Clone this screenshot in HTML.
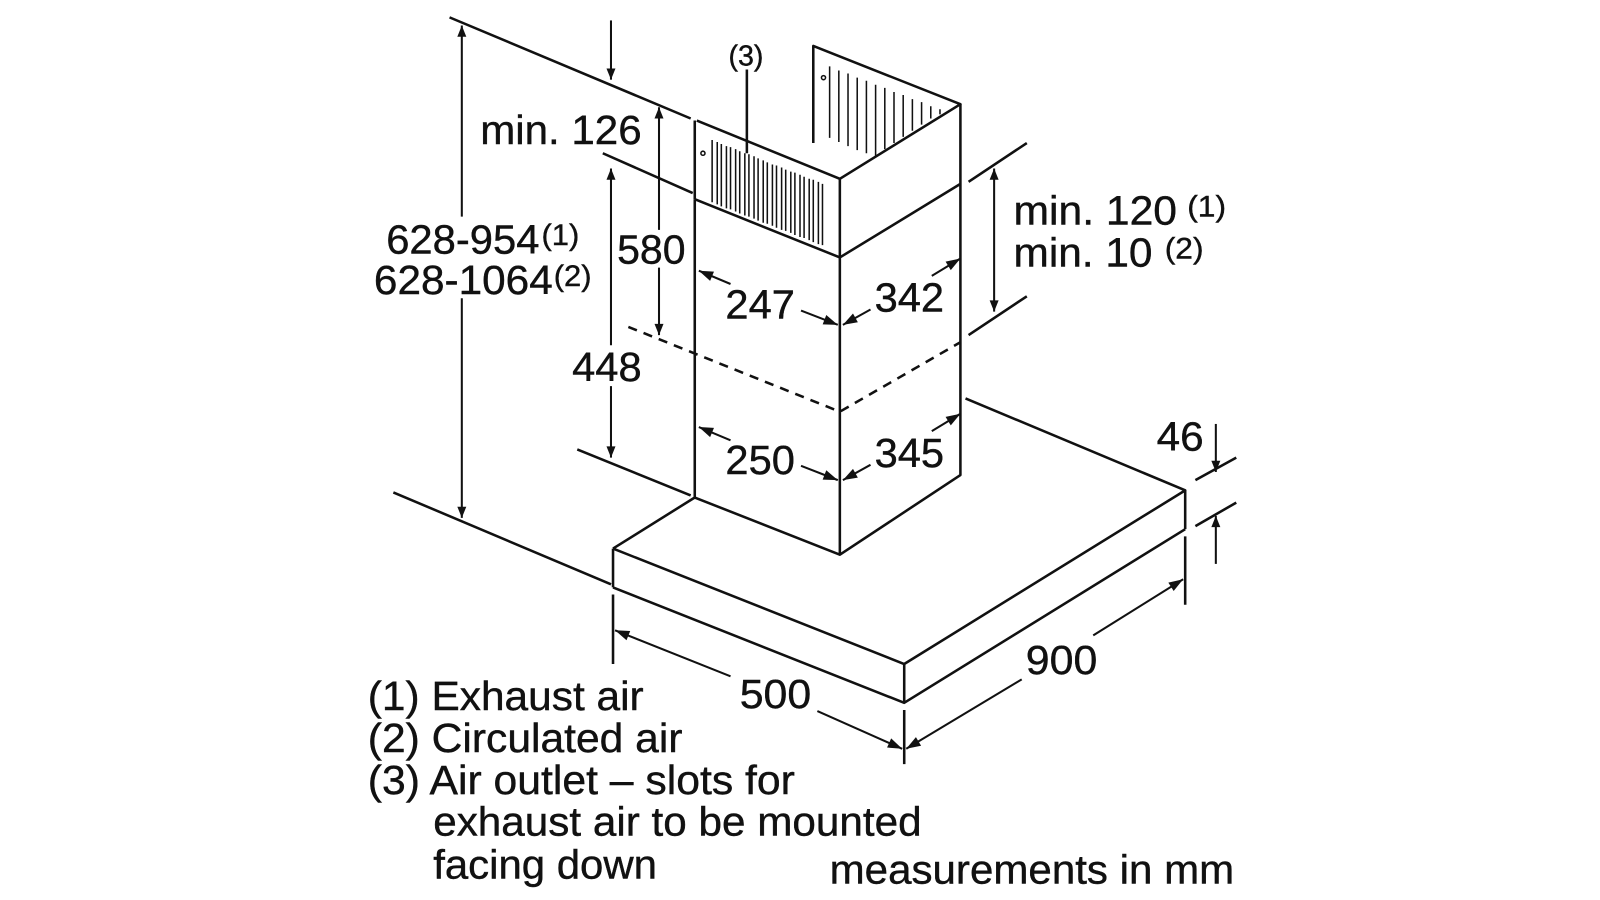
<!DOCTYPE html>
<html><head><meta charset="utf-8"><style>
html,body{margin:0;padding:0;background:#fff;}
svg{display:block;}
text{font-family:"Liberation Sans",Arial,sans-serif;fill:#111;stroke:#111;stroke-width:0.4;}
</style></head><body>
<svg width="1600" height="900" viewBox="0 0 1566 881" preserveAspectRatio="none" xmlns="http://www.w3.org/2000/svg">
<defs>
<marker id="a" viewBox="0 0 10 10" refX="10" refY="5" markerWidth="16" markerHeight="11" markerUnits="userSpaceOnUse" orient="auto-start-reverse"><path d="M0,1 L10,5 L0,9 z" fill="#111"/></marker>
<marker id="b" viewBox="0 0 10 10" refX="10" refY="5" markerWidth="20" markerHeight="14" markerUnits="userSpaceOnUse" orient="auto-start-reverse"><path d="M0,1.5 L10,5 L0,8.5 z" fill="#111"/></marker>
</defs>
<g stroke="#111" stroke-width="2.5" fill="none" stroke-linejoin="round">
<path d="M600,537 L680,487 M600,537 L885,650 L1160,480 L945,390 M600,575 L885,688 L1160,518 M600,537 V575 M885,650 V688 M1160,480 V518"/>
<path d="M680,195 V487 L822,543 L940,465 V102 M822,175 V543 M822,252 L940,180 M680,195 L822,252"/>
<path d="M682,118 L822,175 L940,102 L796,45 V140 M680,118 V195"/>
<path d="M615,320 L822,403 L940,335" stroke-dasharray="9,7"/>
<path d="M440,17 L676,116 M590,150 L678,189 M565,440 L676,485 M385,482 L598,572 M948,178 L1005,140 M948,328 L1005,290 M1170,470 L1210,448 M1170,515 L1210,492 M600,582 V650 M885,695 V748 M1160,525 V592 M731,68 V150"/>
</g>
<g stroke="#111" stroke-width="1.5" fill="none">
<path d="M697,137 V198 M702,139 V200 M706,141 V202 M711,143 V204 M715,144 V205 M720,146 V207 M724,148 V209 M729,150 V211 M733,151 V212 M738,153 V214 M742,155 V216 M747,157 V218 M751,159 V219 M756,161 V221 M760,162 V223 M765,164 V225 M769,166 V226 M774,168 V228 M778,169 V230 M783,171 V232 M787,173 V233 M792,175 V235 M796,176 V237 M801,178 V239 M805,180 V240"/>
<path d="M812,65 V135 M821,69 V139 M830,72 V143 M839,76 V147 M848,79 V150 M857,83 V153 M866,86 V146 M875,90 V140 M884,93 V134 M893,97 V128 M902,100 V122 M911,104 V116 M920,107 V112"/>
<circle cx="688" cy="150" r="2"/><circle cx="806" cy="76" r="2"/>
</g>
<g stroke="#111" stroke-width="2" fill="none">
<line x1="452" y1="212" x2="452" y2="25" marker-end="url(#a)"/>
<line x1="452" y1="292" x2="452" y2="507" marker-end="url(#a)"/>
<line x1="598" y1="20" x2="598" y2="78" marker-end="url(#a)"/>
<line x1="645" y1="225" x2="645" y2="105" marker-end="url(#a)"/>
<line x1="645" y1="262" x2="645" y2="328" marker-end="url(#a)"/>
<line x1="598" y1="338" x2="598" y2="165" marker-end="url(#a)"/>
<line x1="598" y1="378" x2="598" y2="448" marker-end="url(#a)"/>
<line x1="973" y1="165" x2="973" y2="305" marker-start="url(#a)" marker-end="url(#a)"/>
<line x1="715" y1="278" x2="684" y2="265" marker-end="url(#b)"/>
<line x1="784" y1="304" x2="820" y2="318" marker-end="url(#b)"/>
<line x1="852" y1="303" x2="825" y2="318" marker-end="url(#b)"/>
<line x1="912" y1="270" x2="940" y2="253" marker-end="url(#b)"/>
<line x1="715" y1="431" x2="684" y2="418" marker-end="url(#b)"/>
<line x1="784" y1="456" x2="820" y2="470" marker-end="url(#b)"/>
<line x1="852" y1="455" x2="825" y2="470" marker-end="url(#b)"/>
<line x1="912" y1="422" x2="940" y2="405" marker-end="url(#b)"/>
<line x1="1190" y1="415" x2="1190" y2="462" marker-end="url(#a)"/>
<line x1="1190" y1="552" x2="1190" y2="505" marker-end="url(#a)"/>
<line x1="715" y1="662" x2="602" y2="617" marker-end="url(#b)"/>
<line x1="800" y1="696" x2="883" y2="733" marker-end="url(#b)"/>
<line x1="1000" y1="665" x2="887" y2="733" marker-end="url(#b)"/>
<line x1="1070" y1="622" x2="1158" y2="567" marker-end="url(#b)"/>
</g>
<g font-size="40">
<text x="378" y="248" textLength="150" lengthAdjust="spacingAndGlyphs">628-954</text><text x="530" y="240" font-size="29" textLength="37" lengthAdjust="spacingAndGlyphs">(1)</text>
<text x="366" y="288" textLength="175" lengthAdjust="spacingAndGlyphs">628-1064</text><text x="542" y="280" font-size="29" textLength="37" lengthAdjust="spacingAndGlyphs">(2)</text>
<text x="470" y="141" textLength="158" lengthAdjust="spacingAndGlyphs">min. 126</text>
<text x="604" y="258" textLength="67" lengthAdjust="spacingAndGlyphs">580</text>
<text x="560" y="373" textLength="68" lengthAdjust="spacingAndGlyphs">448</text>
<text x="710" y="312" textLength="68" lengthAdjust="spacingAndGlyphs">247</text>
<text x="856" y="305" textLength="68" lengthAdjust="spacingAndGlyphs">342</text>
<text x="710" y="464" textLength="68" lengthAdjust="spacingAndGlyphs">250</text>
<text x="856" y="457" textLength="68" lengthAdjust="spacingAndGlyphs">345</text>
<text x="992" y="220" textLength="160" lengthAdjust="spacingAndGlyphs">min. 120</text><text x="1162" y="212" font-size="29" textLength="38" lengthAdjust="spacingAndGlyphs">(1)</text>
<text x="992" y="261" textLength="136" lengthAdjust="spacingAndGlyphs">min. 10</text><text x="1140" y="253" font-size="29" textLength="38" lengthAdjust="spacingAndGlyphs">(2)</text>
<text x="1132" y="441" textLength="46" lengthAdjust="spacingAndGlyphs">46</text>
<text x="1004" y="660" textLength="70" lengthAdjust="spacingAndGlyphs">900</text>
<text x="724" y="693" textLength="70" lengthAdjust="spacingAndGlyphs">500</text>
<text x="713" y="64" font-size="28">(3)</text>
<text x="360" y="695" textLength="270" lengthAdjust="spacingAndGlyphs">(1) Exhaust air</text>
<text x="360" y="736" textLength="308" lengthAdjust="spacingAndGlyphs">(2) Circulated air</text>
<text x="360" y="777" textLength="418" lengthAdjust="spacingAndGlyphs">(3) Air outlet – slots for</text>
<text x="424" y="818" textLength="478" lengthAdjust="spacingAndGlyphs">exhaust air to be mounted</text>
<text x="424" y="860" textLength="219" lengthAdjust="spacingAndGlyphs">facing down</text>
<text x="812" y="865" textLength="396" lengthAdjust="spacingAndGlyphs">measurements in mm</text>
</g>
</svg>
</body></html>
